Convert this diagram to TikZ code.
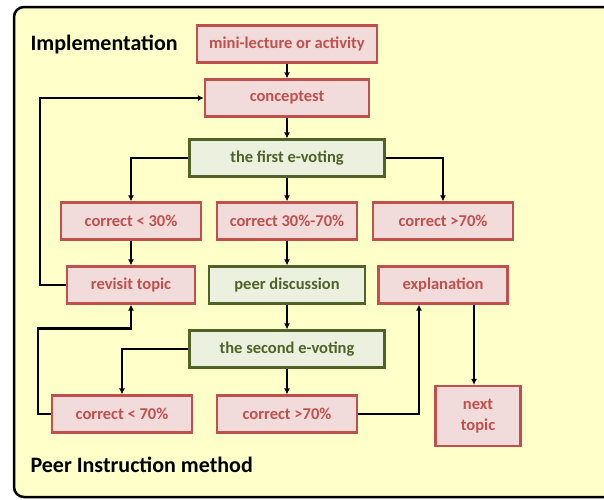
\documentclass[tikz,border=0pt]{standalone}
\usepackage{fontspec}
\setmainfont{Carlito}
\usepackage{tikz}
\usetikzlibrary{arrows.meta}
\definecolor{redline}{HTML}{C0504D}
\definecolor{redfill}{HTML}{F2DCDB}
\definecolor{greenline}{HTML}{4F6228}
\definecolor{greenfill}{HTML}{EBF1DE}
\definecolor{paper}{HTML}{FFFFC9}
\tikzset{
	redbox/.style={draw=redline, fill=redfill, text=redline, line width=2.2pt, inner sep=0pt,
		minimum height=37pt, font=\bfseries\fontsize{16.5}{20}\selectfont},
	greenbox/.style={redbox, draw=greenline, fill=greenfill, text=greenline},
	heading/.style={anchor=west, font=\bfseries\fontsize{22}{26}\selectfont},
	link/.style={-{Latex[length=6pt,width=6pt]}, line width=2.3pt}
}
\begin{document}
\begin{tikzpicture}[x=1pt, y=-1pt]
		\useasboundingbox (0,0) rectangle (604,499);
		\clip (0,0) rectangle (604,499);
		\fill[white] (0,0) rectangle (604,499);
		\draw[line width=2.5pt, fill=paper, rounded corners=10pt] (14,7) rectangle (650,497);
		\node[heading] (title) at (27,44) {Implementation};
		\node[heading] (method) at (27,465) {Peer Instruction method};
		\node[redbox, minimum width=180pt] (mini) at (287,44) {mini-lecture or activity};
		\node[redbox, minimum width=164pt] (concept) at (287,98) {conceptest};
		\node[greenbox, minimum width=195pt] (vote1) at (287,158) {the first e-voting};
		\node[redbox, minimum width=140pt] (low) at (131,221) {correct < 30\%};
		\node[redbox, minimum width=140pt] (mid) at (287,221) {correct 30\%-70\%};
		\node[redbox, minimum width=140pt] (high) at (443,221) {correct >70\%};
		\node[redbox, minimum width=128pt] (revisit) at (131,285) {revisit topic};
		\node[greenbox, minimum width=156pt] (peer) at (287,285) {peer discussion};
		\node[redbox, minimum width=129pt] (expl) at (443,285) {explanation};
		\node[greenbox, minimum width=195pt] (vote2) at (287,349) {the second e-voting};
		\node[redbox, minimum width=140pt] (low2) at (122,414) {correct < 70\%};
		\node[redbox, minimum width=140pt] (high2) at (287,414) {correct >70\%};
		\node[redbox, minimum width=85pt, minimum height=60pt, align=center] (next) at (478,416) {next\\[1pt]topic};
		\draw[link] (mini) -- (concept);
		\draw[link] (concept) -- (vote1);
		\draw[link] (vote1.west) -| (low);
		\draw[link] (vote1) -- (mid);
		\draw[link] (vote1.east) -| (high);
		\draw[link] (low) -- (revisit);
		\draw[link] (revisit.west) -- ++(-26,0) |- (concept.west);
		\draw[link] (mid) -- (peer);
		\draw[link] (peer) -- (vote2);
		\draw[link] (vote2.west) -| (low2);
		\draw[link] (vote2) -- (high2);
		\draw[link] (low2.west) -- ++(-13,0) |- ([yshift=-24pt]revisit.south) -- (revisit.south);
		\draw[link] (high2.east) -| ([xshift=-24pt]expl.south);
		\draw[link] ([xshift=31pt]expl.south) -- ([xshift=31pt]expl.south |- next.north);
	\end{tikzpicture}
\end{document}
